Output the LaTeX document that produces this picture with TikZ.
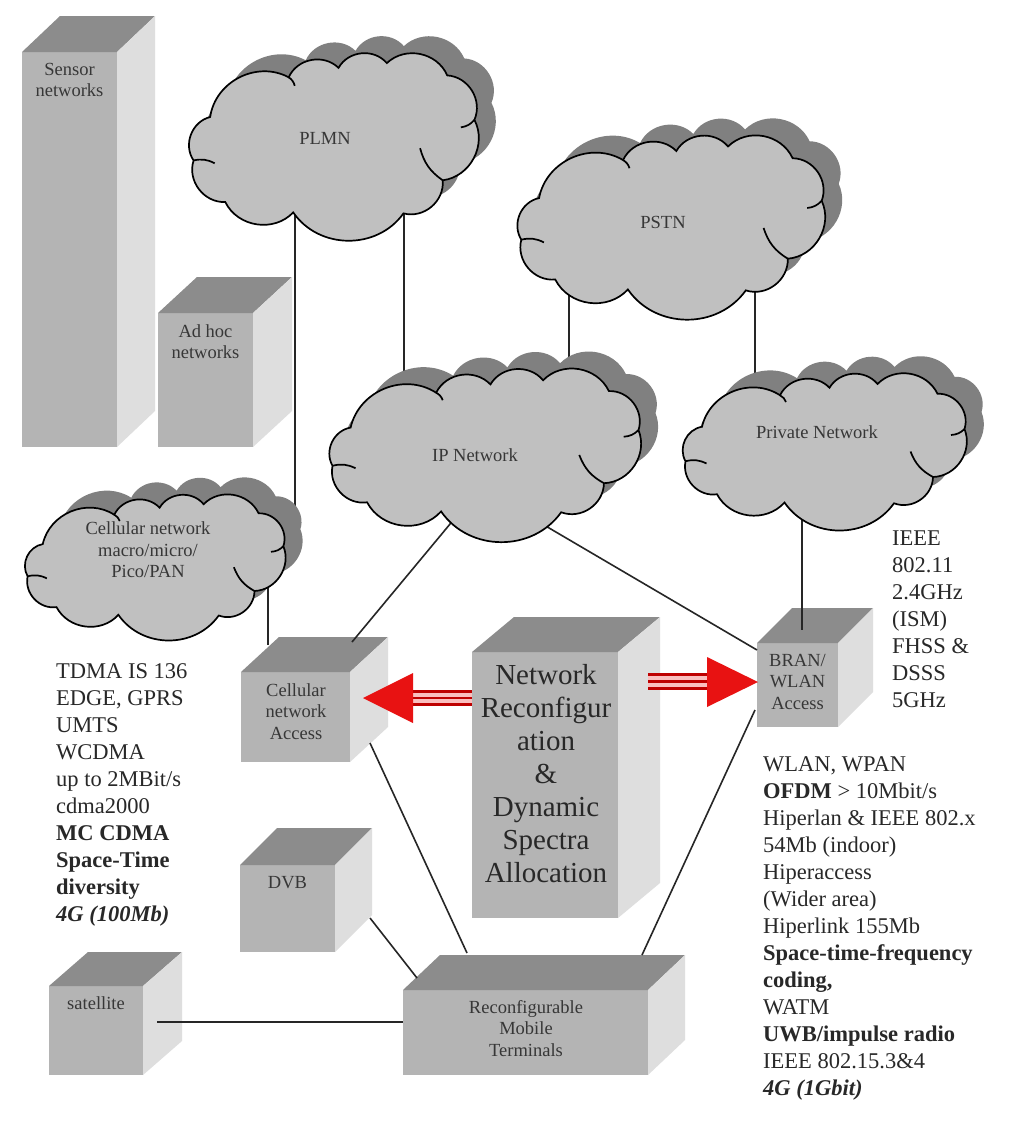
\documentclass[tikz,border=0pt]{standalone}
\usepackage{fontspec}
\setmainfont{Liberation Serif}
\usetikzlibrary{calc}

\definecolor{boxfront}{RGB}{180,180,180}
\definecolor{boxtop}{RGB}{140,140,140}
\definecolor{boxside}{RGB}{222,222,222}
\definecolor{cloudfill}{RGB}{192,192,192}
\definecolor{cloudshadow}{RGB}{128,128,128}
\definecolor{arrred}{RGB}{232,18,18}
\definecolor{arrdark}{RGB}{190,0,0}
\definecolor{arrpink}{RGB}{250,190,190}
\definecolor{txt}{RGB}{40,40,40}
\definecolor{lbl}{RGB}{55,55,55}

\tikzset{
  conn/.style={line width=1.6pt, draw=black!85},
  cloudbend/.style={bend left=55, looseness=1.05},
  cloudline/.style={line width=1.7pt, draw=black},
  boxlabel/.style={font=\fontsize{18.5}{21.5}\selectfont, text=lbl, align=center, inner sep=0pt, anchor=north},
  cloudlabel/.style={font=\fontsize{18.5}{21.5}\selectfont, text=lbl, align=center, inner sep=0pt},
  bigtext/.style={font=\fontsize{29}{33}\selectfont, text=txt, align=center, inner sep=0pt, anchor=north},
  sidetext/.style={font=\fontsize{22.5}{27}\selectfont, text=txt, align=left, inner sep=0pt, anchor=north west},
}

\newcommand\cloudpts{-0.30/-0.69, 0.03/-0.79, 0.35/-0.84, 0.75/-0.71, 0.93/-0.24, 0.72/0.40, 0.46/0.75, -0.27/0.74, -0.72/0.63, -0.93/0.19, -0.82/-0.27}

% #1 name, #2 cx, #3 cy, #4 a, #5 b
\newcommand\mycloud[5]{%
  \fill[cloudshadow] ({#2+17-0.82*#4},{#3-17-0.27*#5})
    \foreach \u/\v in \cloudpts {to[cloudbend] ({#2+17+\u*#4},{#3-17+\v*#5})} -- cycle;
  \filldraw[fill=cloudfill, cloudline] ({#2-0.82*#4},{#3-0.27*#5})
    \foreach \u/\v in \cloudpts {to[cloudbend] ({#2+\u*#4},{#3+\v*#5})} -- cycle;
  \foreach \a/\b/\c/\d in {0.93/-0.24/0.84/-0.16, 0.72/0.40/0.57/0.06, -0.93/0.19/-0.79/0.22, -0.30/-0.69/-0.26/-0.60}
    \draw[cloudline] ({#2+\a*#4},{#3+\b*#5}) to[bend left=20] ({#2+\c*#4},{#3+\d*#5});
  \coordinate (#1) at (#2,#3);
}

% #1 name, #2 x1, #3 y1, #4 x2, #5 y2, #6 dx, #7 dy
\newcommand\mybox[7]{%
  \path[fill=boxfront] (#2,#3) rectangle (#4,#5);
  \path[fill=boxtop] (#2,#3) -- ++(#6,#7) -- ({#4+#6},{#3+#7}) -- (#4,#3) -- cycle;
  \path[fill=boxside] (#4,#3) -- ({#4+#6},{#3+#7}) -- ({#4+#6},{#5+#7}) -- (#4,#5) -- cycle;
  \coordinate (#1) at ({(#2+#4)/2},#3);
}

\begin{document}
\begin{tikzpicture}[x=1pt,y=-1pt]
\useasboundingbox[fill=white] (0,0) rectangle (1025,1133);

% ---------- boxes ----------
\mybox{sensor}{22}{52}{117}{447}{38}{-36}
\mybox{adhoc}{158}{313}{253}{447}{39}{-36}
\mybox{cellacc}{241}{672}{350}{762}{38}{-35}
\mybox{center}{472}{652}{618}{918}{42}{-35}
\mybox{bran}{757}{643}{838}{727}{35}{-35}
\mybox{dvb}{240}{865}{335}{952}{37}{-37}
\mybox{sat}{49}{986}{143}{1075}{39}{-34}
\mybox{reconf}{403}{990}{648}{1075}{37}{-35}

% ---------- connector end points ----------
\coordinate (plmnA) at (295,180);
\coordinate (cellcT) at (295,520);
\coordinate (plmnB) at (404,180);
\coordinate (ipT1) at (404,400);
\coordinate (pstnA) at (569,260);
\coordinate (ipT2) at (569,400);
\coordinate (pstnB) at (755,260);
\coordinate (privT) at (755,400);
\coordinate (privB) at (802,480);
\coordinate (branT) at (802,630);
\coordinate (cellcB) at (268,560);
\coordinate (cellaccT) at (268,645);
\coordinate (ipB1) at (470,500);
\coordinate (cellaccTR) at (352,642);
\coordinate (ipB2) at (515,508);
\coordinate (branTL) at (757,650);
\coordinate (cellaccS) at (370,743);
\coordinate (reconfT1) at (467,953);
\coordinate (branL) at (755,710);
\coordinate (reconfT2) at (642,955);
\coordinate (dvbS) at (370,918);
\coordinate (reconfL) at (417,978);
\coordinate (satS) at (157,1022);
\coordinate (reconfW) at (403,1022);

% ---------- connectors ----------
\draw[conn] (plmnA) -- (cellcT);
\draw[conn] (plmnB) -- (ipT1);
\draw[conn] (pstnA) -- (ipT2);
\draw[conn] (pstnB) -- (privT);
\draw[conn] (privB) -- (branT);
\draw[conn] (cellcB) -- (cellaccT);
\draw[conn] (ipB1) -- (cellaccTR);
\draw[conn] (ipB2) -- (branTL);
\draw[conn] (cellaccS) -- (reconfT1);
\draw[conn] (branL) -- (reconfT2);
\draw[conn] (dvbS) -- (reconfL);
\draw[conn, line width=2.4pt] (satS) -- (reconfW);

% ---------- clouds ----------
\mycloud{plmn}{334}{142.5}{151}{94.5}
\mycloud{pstn}{671.5}{222.5}{161.5}{90.5}
\mycloud{ip}{485.5}{450}{164.5}{83}
\mycloud{priv}{825}{447}{150}{75}
\mycloud{cellc}{155.5}{563}{137.5}{70}

\node[cloudlabel] (plmnl) at (325,138) {PLMN};
\node[cloudlabel] (pstnl) at (663,222) {PSTN};
\node[cloudlabel] (ipl) at (475,455) {IP Network};
\node[cloudlabel] (privl) at (817,432) {Private Network};
\node[cloudlabel] (cellcl) at (148,550) {Cellular network\\macro/micro/\\Pico/PAN};

% ---------- box labels ----------
\node[boxlabel] (sensorl) at (69.5,63) {Sensor\\networks};
\node[boxlabel] (adhocl) at (205.5,324) {Ad hoc\\networks};
\node[boxlabel] (cellaccl) at (296,683) {Cellular\\network\\Access};
\node[boxlabel] (branl) at (797.5,654) {BRAN/\\WLAN\\Access};
\node[boxlabel] (dvbl) at (287.5,876) {DVB};
\node[boxlabel] (satl) at (96,996) {satellite};
\node[boxlabel] (reconfl) at (526,1000) {Reconfigurable\\Mobile\\Terminals};
\node[bigtext] (centerl) at (546,664) {Network\\Reconfigur\\ation\\\&\\Dynamic\\Spectra\\Allocation};

% ---------- red arrows ----------
\coordinate (arrLtip) at (363,698);
\coordinate (arrLbase) at (472,698);
\fill[arrpink] (413,690) rectangle (arrLbase |- 0,706);
\foreach \yy in {691.5,698,704.5} \draw[arrdark, line width=2.8pt] (413,\yy) -- (472,\yy);
\fill[arrred] (arrLtip) -- (413,673) -- (413,723) -- cycle;

\coordinate (arrRtip) at (758,682);
\coordinate (arrRbase) at (648,682);
\fill[arrpink] (arrRbase |- 0,673) rectangle (707,690);
\foreach \yy in {674.5,681.5,688.5} \draw[arrdark, line width=2.8pt] (648,\yy) -- (707,\yy);
\fill[arrred] (arrRtip) -- (707,657) -- (707,707) -- cycle;

% ---------- side texts ----------
\node[sidetext] (lefttext) at (56,663) {TDMA IS 136\\EDGE, GPRS\\UMTS\\WCDMA\\up to 2MBit/s\\cdma2000\\\textbf{MC CDMA}\\\textbf{Space-Time}\\\textbf{diversity}\\\textbf{\textit{4G (100Mb)}}};
\node[sidetext] (ieeetext) at (892,531) {IEEE\\802.11\\2.4GHz\\(ISM)\\FHSS \&\\DSSS\\5GHz};
\node[sidetext] (righttext) at (763,756) {WLAN, WPAN\\\textbf{OFDM} > 10Mbit/s\\Hiperlan \& IEEE 802.x\\54Mb (indoor)\\Hiperaccess\\(Wider area)\\Hiperlink 155Mb\\\textbf{Space-time-frequency}\\\textbf{coding,}\\WATM\\\textbf{UWB/impulse radio}\\IEEE 802.15.3\&4\\\textbf{\textit{4G (1Gbit)}}};
\end{tikzpicture}
\end{document}
